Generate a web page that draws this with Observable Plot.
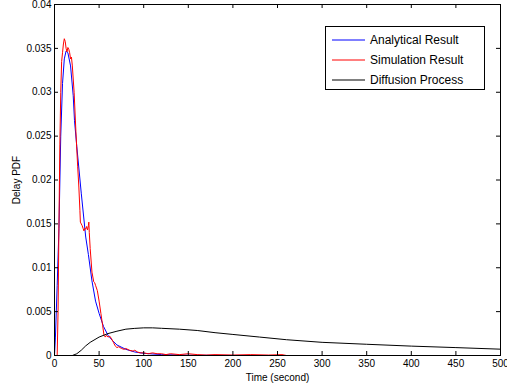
<!DOCTYPE html>
<html>
<head>
<meta charset="utf-8">
<script src="https://cdn.jsdelivr.net/npm/d3@7"></script>
<script src="https://cdn.jsdelivr.net/npm/@observablehq/plot@0.6"></script>
<style>
  html, body { margin: 0; padding: 0; background: #fff; }
  #wrap { position: relative; width: 507px; height: 387px; font-family: "Liberation Sans", Arial, Helvetica, sans-serif; }
  #legend { position: absolute; left: 325px; top: 26px; width: 160px; height: 64px; box-sizing: border-box;
            border: 1px solid #000; background: #fff; font-size: 12px; color: #000; }
  .entry { position: absolute; left: 6px; height: 14px; display: flex; align-items: center; white-space: nowrap; }
  .entry svg { margin-right: 5px; }
</style>
</head>
<body>
<div id="wrap"><div id="legend"></div></div>
<script>
// ---- data ----
const xTicks = [0, 50, 100, 150, 200, 250, 300, 350, 400, 450, 500];
const yTicks = [0, 0.005, 0.01, 0.015, 0.02, 0.025, 0.03, 0.035, 0.04];
const yTickLabels = ["0", "0.005", "0.01", "0.015", "0.02", "0.025", "0.03", "0.035", "0.04"];

const seriesNames = ["Analytical Result", "Simulation Result", "Diffusion Process"];
const seriesColors = ["#0000ff", "#ff0000", "#000000"];

const analyticalT = [0, 1, 3, 5, 7, 9, 11, 13, 15, 18, 21, 22.4, 25, 30, 35, 38, 42, 46, 50, 55, 60, 65, 70, 80, 90, 100, 120, 150, 200, 260];
const analyticalV = [0, 0.002, 0.008, 0.0145, 0.025, 0.031, 0.0338, 0.0347, 0.0345, 0.0330, 0.0296, 0.0268, 0.0238, 0.0185, 0.0135, 0.0115, 0.0085, 0.0062, 0.0048, 0.0033, 0.0023, 0.0017, 0.0012, 0.0007, 0.0004, 0.00025, 0.0001, 0.00003, 0.00001, 0];

const simulationT = [0, 3, 4, 5, 6, 7, 8, 9, 10, 11, 12, 13, 14, 15, 16, 17, 18, 19, 20, 22, 24, 26, 27.3, 28.5, 29, 30, 31, 32, 33, 34, 35, 36, 37, 38, 38.5, 39, 40, 42, 44, 45, 46, 48, 50, 52, 54, 55.5, 57, 58, 60, 62, 64, 66, 68, 70, 72, 75, 78, 80, 84, 88, 90, 93, 96, 100, 105, 110, 115, 120, 125, 130, 140, 150, 160, 170, 180, 200, 220, 240, 255, 260];
const simulationV = [0, 0, 0.005, 0.015, 0.024, 0.030, 0.0335, 0.0345, 0.0355, 0.0361, 0.0358, 0.0350, 0.0346, 0.0351, 0.0349, 0.0345, 0.0338, 0.0340, 0.0330, 0.0300, 0.0255, 0.0215, 0.0192, 0.0165, 0.0152, 0.0150, 0.0148, 0.0145, 0.0142, 0.0145, 0.0144, 0.0147, 0.0143, 0.0148, 0.0152, 0.0140, 0.0122, 0.0095, 0.0084, 0.0083, 0.0080, 0.0074, 0.0062, 0.0048, 0.0034, 0.0023, 0.0021, 0.0023, 0.0021, 0.0022, 0.0019, 0.0015, 0.0011, 0.0009, 0.0010, 0.0008, 0.0007, 0.0008, 0.0006, 0.0005, 0.0006, 0.0004, 0.0003, 0.0003, 0.0002, 0.0003, 0.0002, 0.0002, 0.0001, 0.0002, 0.0001, 0.0002, 0.0001, 0.00005, 0.0001, 0.00005, 0.0001, 0.00005, 0.0001, 0];

const diffusionT = [0, 20, 25, 30, 35, 40, 50, 60, 70, 80, 90, 100, 110, 120, 140, 160, 180, 200, 230, 260, 300, 350, 400, 450, 500];
const diffusionV = [0, 0, 0.0002, 0.0006, 0.0011, 0.0015, 0.0021, 0.0025, 0.00277, 0.0030, 0.00309, 0.00315, 0.00315, 0.0031, 0.0030, 0.00285, 0.0026, 0.0024, 0.0021, 0.0018, 0.0015, 0.00128, 0.00107, 0.0009, 0.00072];

// ---- build tables ----
const toRows = (ts, vs) => ts.map((t, i) => ({t, v: vs[i]}));
const analytical = toRows(analyticalT, analyticalV);
const simulation = toRows(simulationT, simulationV);
const diffusion = toRows(diffusionT, diffusionV);

const tickLen = 4;
const plotW = 507 - 54 - 7, plotH = 387 - 4 - 32;

const chart = Plot.plot({
  width: 507, height: 387,
  marginLeft: 54, marginRight: 7, marginTop: 4, marginBottom: 32,
  x: {domain: [0, 500]},
  y: {domain: [0, 0.04]},
  style: {fontFamily: "'Liberation Sans', Arial, Helvetica, sans-serif", fontSize: "10px", background: "#fff", color: "#000"},
  marks: [
    Plot.line(analytical, {x: "t", y: "v", stroke: seriesColors[0], strokeWidth: 1, clip: true}),
    Plot.line(simulation, {x: "t", y: "v", stroke: seriesColors[1], strokeWidth: 1, clip: true}),
    Plot.line(diffusion, {x: "t", y: "v", stroke: seriesColors[2], strokeWidth: 1, clip: true}),
    Plot.ruleX(xTicks, {x: d => d, insetTop: plotH - tickLen, stroke: "#000"}),
    Plot.ruleX(xTicks, {x: d => d, insetBottom: plotH - tickLen, stroke: "#000"}),
    Plot.ruleY(yTicks, {y: d => d, insetRight: plotW - tickLen, stroke: "#000"}),
    Plot.ruleY(yTicks, {y: d => d, insetLeft: plotW - tickLen, stroke: "#000"}),
    Plot.frame({stroke: "#000"}),
    Plot.axisX({ticks: xTicks, tickSize: 0, tickPadding: 4, tickFormat: d => String(d),
                label: "Time (second)", labelAnchor: "center", labelOffset: 25, labelArrow: "none"}),
    Plot.axisY({ticks: yTicks, tickSize: 0, tickPadding: 3, tickFormat: (d, i) => yTickLabels[i],
                label: "Delay PDF", labelAnchor: "center", labelOffset: 42, labelArrow: "none"})
  ]
});
const wrap = document.getElementById("wrap");
wrap.insertBefore(chart, wrap.firstChild);

// ---- legend ----
const legend = document.getElementById("legend");
seriesNames.forEach((name, i) => {
  const e = document.createElement("div");
  e.className = "entry";
  e.style.top = (6 + i * 20) + "px";
  e.innerHTML = `<svg width="33" height="4"><line x1="0" x2="33" y1="2" y2="2" stroke="${seriesColors[i]}" stroke-width="1"/></svg><span>${name}</span>`;
  legend.appendChild(e);
});
</script>
</body>
</html>
